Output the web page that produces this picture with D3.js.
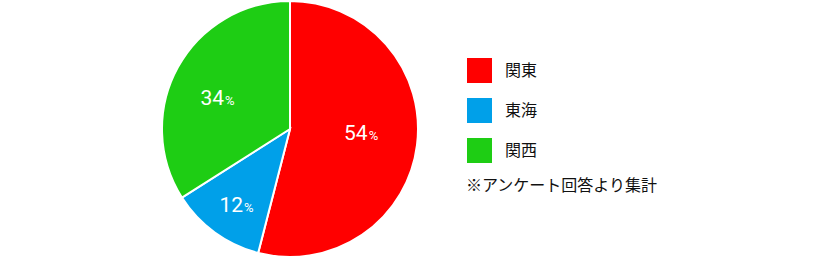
<!DOCTYPE html>
<html><head><meta charset="utf-8">
<script src="https://cdn.jsdelivr.net/npm/d3@7/dist/d3.min.js"></script>
<style>html,body{margin:0;padding:0;background:#fff;}svg{display:block;}</style>
</head><body>
<svg id="c" width="820" height="259"></svg>
<script>
const categories = ["関東", "東海", "関西"];
const values = [54, 12, 34];
const colors = ["#ff0000", "#00a0e9", "#1ecd14"];
const note = "※アンケート回答より集計";

const svg = d3.select("#c");
const cx = 290, cy = 129, r = 128;
const pie = d3.pie().sort(null).value(d => d)(values);
const arc = d3.arc().innerRadius(0).outerRadius(r);
const g = svg.append("g").attr("transform", `translate(${cx},${cy})`);
g.selectAll("path").data(pie).join("path")
  .attr("d", arc).attr("fill", (d, i) => colors[i])
  .attr("stroke", "#fff").attr("stroke-width", 2);

// label placement (radius fraction and small nudges per slice)
const labelPos = [{k: 0.56, dx: 0, dy: -3.5}, {k: 0.73, dx: 1.5, dy: 1.5}, {k: 0.62, dx: -3, dy: 8.5}];
const lbl = g.selectAll("text").data(pie).join("text")
  .attr("transform", (d, i) => {
    const p = labelPos[i];
    const c = d3.arc().innerRadius(r * p.k).outerRadius(r * p.k).centroid(d);
    return `translate(${c[0] + p.dx},${c[1] + p.dy})`;
  })
  .attr("text-anchor", "middle").attr("dy", "0.36em")
  .attr("fill", "#fff").attr("font-family", "Roboto, sans-serif");
lbl.append("tspan").attr("font-size", 21).text(d => d.value);
lbl.append("tspan").attr("font-size", 13).attr("dx", 1).text("%");

const leg = svg.append("g").attr("transform", "translate(467,58)");
const li = leg.selectAll("g").data(categories).join("g")
  .attr("transform", (d, i) => `translate(0,${i * 40})`);
li.append("rect").attr("width", 25).attr("height", 25).attr("fill", (d, i) => colors[i]);
li.append("text").attr("x", 38).attr("y", 12.5).attr("dy", "0.36em")
  .attr("font-size", 16).attr("font-family", "'Noto Sans CJK JP', sans-serif")
  .attr("fill", "#111").text(d => d);
svg.append("text").attr("x", 466).attr("y", 185).attr("dy", "0.36em")
  .attr("font-size", 16).attr("font-family", "'Noto Sans CJK JP', sans-serif")
  .attr("fill", "#111").text(note);
</script>
</body></html>
